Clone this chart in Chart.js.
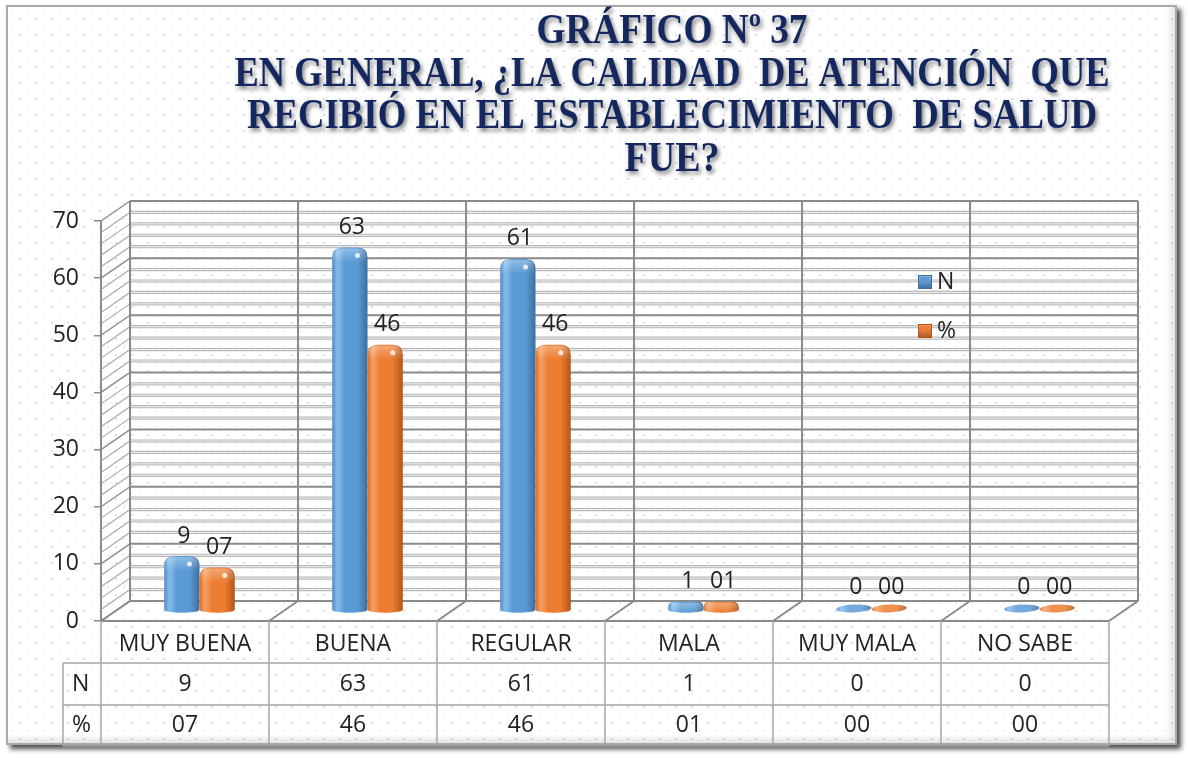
<!DOCTYPE html>
<html lang="es">
<head>
<meta charset="utf-8">
<title>Gráfico Nº 37</title>
<script src="https://cdn.jsdelivr.net/npm/chart.js@4"></script>
<style>
  html, body { margin: 0; padding: 0; background: #fff; }
  #wrap { position: relative; width: 1188px; height: 758px; overflow: hidden; background: #fff; }
  #frame {
    position: absolute; left: 6px; top: 5px; width: 1167px; height: 736px;
    border: 2px solid #a9a9a9;
    box-shadow: 4px 4px 5px rgba(0, 0, 0, 0.7), inset -4px -4px 6px rgba(0, 0, 0, 0.12);
    background-color: #fff;
    background-image:
      radial-gradient(circle, rgba(140, 170, 230, 0.35) 1px, transparent 1.4px),
      radial-gradient(circle, rgba(140, 170, 230, 0.2) 0.8px, transparent 1.2px);
    background-size: 16px 16px, 16px 16px;
    background-position: 4px 4px, 12px 12px;
  }
  #chart { position: absolute; left: 0; top: 0; }
</style>
</head>
<body>
<div id="wrap">
  <div id="frame"></div>
  <canvas id="chart" width="1188" height="758"></canvas>
</div>
<script>
// survey answers and their two series
const categories = ['MUY BUENA', 'BUENA', 'REGULAR', 'MALA', 'MUY MALA', 'NO SABE'];
const countN = [9, 63, 61, 1, 0, 0];
const percent = [7, 46, 46, 1, 0, 0];
const seriesNames = ['N', '%'];

// value axis
const yMin = 0;
const yMax = 70;
const yStep = 10;
const minorStep = 2;

const titleLines = [
  'GRÁFICO Nº 37',
  'EN GENERAL, ¿LA CALIDAD  DE ATENCIÓN  QUE',
  'RECIBIÓ EN EL ESTABLECIMIENTO  DE SALUD',
  'FUE?'
];

// how the label text of each series is written
const formatters = [v => String(v), v => String(v).padStart(2, '0')];

const SANS = '"Open Sans", "Noto Sans", sans-serif';
const TEXT = '#222222';
const DEPTH_X = 29, DEPTH_Y = -20;       // back wall offset from the front plane
const BAR_X = 14.5, BAR_Y = -10.5;       // bars stand half way into the depth

const palette = [
  { base: '#5B9BD5', light: '#86BCEB', dark: '#3B6E9F', edge: '#4F8CC6' },
  { base: '#ED7D31', light: '#F7A062', dark: '#B0561A', edge: '#DB6E25' }
];

function line(ctx, x1, y1, x2, y2) {
  ctx.beginPath();
  ctx.moveTo(x1, y1);
  ctx.lineTo(x2, y2);
  ctx.stroke();
}

function drawBar(ctx, x0, top, w, bot, c) {
  const x1 = x0 + w, cx = x0 + w / 2;
  const g = ctx.createLinearGradient(x0, 0, x1, 0);
  g.addColorStop(0, c.edge);
  g.addColorStop(0.15, c.light);
  g.addColorStop(0.35, c.base);
  g.addColorStop(0.72, c.base);
  g.addColorStop(1, c.dark);
  const h = bot - top;

  if (h < 1) {
    // empty value: only a flat disc on the floor
    ctx.fillStyle = g;
    ctx.globalAlpha = 0.85;
    ctx.beginPath();
    ctx.ellipse(cx, bot - 2, w / 2, 4, -0.04, 0, Math.PI * 2);
    ctx.fill();
    ctx.globalAlpha = 1;
    return;
  }

  top -= 3;
  const r = Math.min(10, (bot - top) / 2 + 2);
  ctx.fillStyle = g;
  ctx.beginPath();
  ctx.moveTo(x0, bot);
  ctx.lineTo(x0, top + r);
  ctx.quadraticCurveTo(x0, top, x0 + r, top);
  ctx.lineTo(x1 - r, top);
  ctx.quadraticCurveTo(x1, top, x1, top + r);
  ctx.lineTo(x1, bot);
  ctx.ellipse(cx, bot, w / 2, 3, 0, 0, Math.PI);
  ctx.closePath();
  ctx.fill();

  // lighter top face
  const cap = ctx.createLinearGradient(0, top, 0, top + r + 5);
  cap.addColorStop(0, 'rgba(255,255,255,0.35)');
  cap.addColorStop(1, 'rgba(255,255,255,0)');
  ctx.fillStyle = cap;
  ctx.beginPath();
  ctx.moveTo(x0 + 1, top + r + 5);
  ctx.lineTo(x0 + 1, top + r);
  ctx.quadraticCurveTo(x0 + 1, top + 1, x0 + r, top + 1);
  ctx.lineTo(x1 - r, top + 1);
  ctx.quadraticCurveTo(x1 - 1, top + 1, x1 - 1, top + r);
  ctx.lineTo(x1 - 1, top + r + 5);
  ctx.closePath();
  ctx.fill();

  // glint near the top right corner
  if (h > 8) {
    ctx.fillStyle = 'rgba(255,255,255,0.8)';
    ctx.beginPath();
    ctx.ellipse(x1 - 10, top + 8, 2.5, 2.5, 0, 0, Math.PI * 2);
    ctx.fill();
  }
}

const room3d = {
  id: 'room3d',
  beforeDatasetsDraw(chart) {
    const { ctx, chartArea: a, scales: { x, y } } = chart;
    const cw = (a.right - a.left) / x.ticks.length;
    ctx.save();
    ctx.lineCap = 'butt';

    for (let v = y.min; v <= y.max + 1e-9; v += minorStep) {
      const py = y.getPixelForValue(v);
      const major = Math.abs(v % yStep) < 1e-9;
      // side wall hatching
      ctx.strokeStyle = major ? '#8c8c8c' : '#a6a6a6';
      ctx.lineWidth = major ? 1.4 : 1.1;
      line(ctx, a.left, py, a.left + DEPTH_X, py + DEPTH_Y);
      // back wall gridlines
      const by = py + DEPTH_Y;
      if (major) {
        ctx.strokeStyle = '#8a8a8a';
        ctx.lineWidth = 2;
        line(ctx, a.left + DEPTH_X, by, a.right + DEPTH_X, by);
      } else {
        ctx.strokeStyle = '#b8b8b8';
        ctx.lineWidth = 3.2;
        line(ctx, a.left + DEPTH_X, by, a.right + DEPTH_X, by);
        ctx.strokeStyle = '#f2f2f2';
        ctx.lineWidth = 1;
        line(ctx, a.left + DEPTH_X, by, a.right + DEPTH_X, by);
      }
    }

    // category dividers on the back wall and across the floor
    ctx.strokeStyle = '#8a8a8a';
    ctx.lineWidth = 2;
    for (let i = 0; i <= x.ticks.length; i++) {
      const fx = a.left + i * cw;
      line(ctx, fx + DEPTH_X, a.top + DEPTH_Y, fx + DEPTH_X, a.bottom + DEPTH_Y);
      line(ctx, fx, a.bottom, fx + DEPTH_X, a.bottom + DEPTH_Y);
    }
    line(ctx, a.left, a.bottom, a.right, a.bottom);
    ctx.restore();
  },

  // bars are painted by afterDatasetsDraw from the elements' geometry
  beforeDatasetDraw() {
    return false;
  },

  afterDatasetsDraw(chart) {
    const { ctx } = chart;
    ctx.save();
    chart.data.datasets.forEach((ds, di) => {
      const meta = chart.getDatasetMeta(di);
      meta.data.forEach(el => {
        drawBar(ctx, el.x - el.width / 2 + BAR_X, el.y + BAR_Y, el.width, el.base + BAR_Y, palette[di]);
      });
    });
    // value labels
    ctx.fillStyle = TEXT;
    ctx.font = '23px ' + SANS;
    ctx.textAlign = 'center';
    ctx.textBaseline = 'middle';
    chart.data.datasets.forEach((ds, di) => {
      const meta = chart.getDatasetMeta(di);
      meta.data.forEach((el, i) => {
        ctx.fillText(formatters[di](ds.data[i]), el.x + BAR_X + 2, el.y + BAR_Y - 23);
      });
    });
    ctx.restore();
  },

  afterDraw(chart) {
    const { ctx, chartArea: a, scales: { x } } = chart;
    const cw = (a.right - a.left) / x.ticks.length;
    ctx.save();

    // data table under the floor
    const rowH = 42;
    const r0 = a.bottom, r1 = r0 + rowH, r2 = r1 + rowH, r3 = r2 + 41;
    const labelLeft = a.left - 38;
    ctx.strokeStyle = '#a6a6a6';
    ctx.lineWidth = 1.5;
    for (let i = 0; i <= categories.length; i++) {
      const fx = a.left + i * cw;
      line(ctx, fx, r0, fx, r3);
    }
    line(ctx, labelLeft, r1, a.right, r1);
    line(ctx, labelLeft, r2, a.right, r2);
    line(ctx, labelLeft, r3, a.right, r3);
    line(ctx, labelLeft, r1, labelLeft, r3);

    ctx.fillStyle = TEXT;
    ctx.font = '23px ' + SANS;
    ctx.textAlign = 'center';
    ctx.textBaseline = 'middle';
    const rowData = [countN, percent];
    categories.forEach((cat, i) => {
      const cx = x.getPixelForValue(i);
      ctx.fillText(cat, cx, (r0 + r1) / 2 + 2);
      rowData.forEach((vals, di) => {
        ctx.fillText(formatters[di](vals[i]), cx, (di ? (r2 + r3) : (r1 + r2)) / 2);
      });
    });
    ctx.textAlign = 'left';
    ctx.fillText(seriesNames[0], labelLeft + 9, (r1 + r2) / 2);
    ctx.fillText(seriesNames[1], labelLeft + 9, (r2 + r3) / 2);

    // legend inside the plot
    const lx = a.right - 191;
    [a.top + 61, a.top + 110].forEach((ly, di) => {
      const c = palette[di];
      const g = ctx.createLinearGradient(0, ly - 7, 0, ly + 7);
      g.addColorStop(0, c.light);
      g.addColorStop(1, c.dark);
      ctx.fillStyle = g;
      ctx.fillRect(lx, ly - 7, 14, 14);
      ctx.fillStyle = c.base;
      ctx.beginPath();
      ctx.moveTo(lx + 2, ly - 5);
      ctx.lineTo(lx + 12, ly - 5);
      ctx.lineTo(lx + 7, ly + 3);
      ctx.closePath();
      ctx.fill();
      ctx.strokeStyle = c.dark;
      ctx.lineWidth = 1;
      ctx.strokeRect(lx + 0.5, ly - 6.5, 13, 13);
      ctx.fillStyle = TEXT;
      ctx.font = '23px ' + SANS;
      ctx.textAlign = 'left';
      ctx.fillText(seriesNames[di], lx + 19, ly);
    });

    // title lines, fitted to their widths
    const titleWidths = [271, 875, 850, 95];
    const titleY = [32, 75, 117, 160];
    const tcx = 672;
    ctx.font = 'bold 40px "Liberation Serif", "Times New Roman", serif';
    ctx.textAlign = 'center';
    ctx.textBaseline = 'middle';
    titleLines.forEach((t, i) => {
      const sx = titleWidths[i] / ctx.measureText(t).width;
      ctx.save();
      ctx.translate(tcx, titleY[i]);
      ctx.scale(sx, 1.06);
      ctx.shadowColor = 'rgba(0,0,0,0.5)';
      ctx.shadowOffsetX = 2;
      ctx.shadowOffsetY = 3;
      ctx.shadowBlur = 4;
      ctx.fillStyle = '#14285f';
      ctx.fillText(t, 0, 0);
      ctx.restore();
    });
    ctx.restore();
  }
};

new Chart(document.getElementById('chart'), {
  type: 'bar',
  data: {
    labels: categories,
    datasets: [
      { label: seriesNames[0], data: countN, backgroundColor: palette[0].base },
      { label: seriesNames[1], data: percent, backgroundColor: palette[1].base }
    ]
  },
  options: {
    responsive: false,
    animation: false,
    layout: { padding: { top: 221, right: 79, bottom: 137, left: 0 } },
    datasets: { bar: { categoryPercentage: 0.42, barPercentage: 1 } },
    plugins: {
      legend: { display: false },
      title: { display: false },
      tooltip: { enabled: false }
    },
    scales: {
      x: { display: false },
      y: {
        min: yMin,
        max: yMax,
        ticks: { stepSize: yStep, padding: 15, color: TEXT, font: { family: SANS, size: 23 } },
        grid: { drawOnChartArea: false, drawTicks: true, tickLength: 7, color: '#8c8c8c', lineWidth: 1.5 },
        border: { display: true, color: '#8c8c8c', width: 2 },
        afterFit(scale) { scale.width = 101; }
      }
    }
  },
  plugins: [room3d]
});
</script>
</body>
</html>
